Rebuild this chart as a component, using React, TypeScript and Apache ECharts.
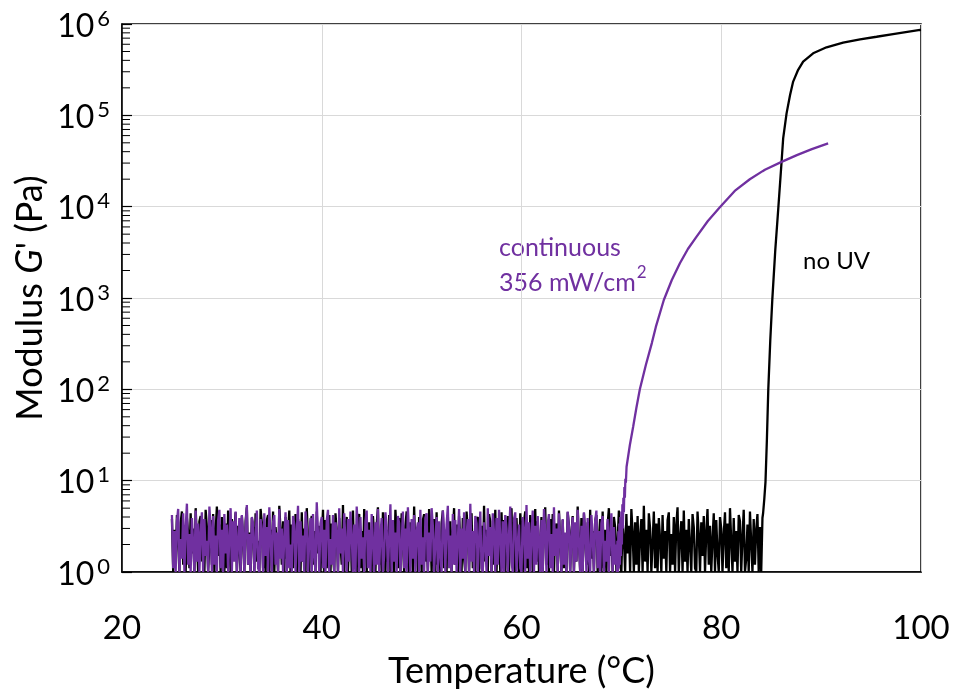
import React, { useEffect, useRef } from "react";
import * as echarts from "echarts";

// ---- data ----
const xTickValues = [20, 40, 60, 80, 100];
const xTickLabels = ["20", "40", "60", "80", "100"];
const yDecadeExponents = [0, 1, 2, 3, 4, 5, 6];

// no UV: noisy baseline sampled from 25.0 °C in 0.125 °C steps
const noUvNoiseStart = 25.0;
const noUvNoiseStep = 0.125;
const noUvNoise = [
  3.8, 1.0, 2.9, 1.4, 4.2, 2.1, 1.0, 3.5, 4.6, 1.2, 2.4, 1.0, 3.9, 2.7, 1.1, 4.4, 1.6, 3.0, 1.0, 5.0,
  2.2, 1.0, 3.6, 4.1, 1.3, 2.5, 1.0, 4.8, 3.1, 1.0, 2.0, 3.7, 1.2, 4.3, 1.0, 2.8, 5.2, 1.5, 3.3, 1.0,
  4.0, 2.6, 1.0, 3.4, 1.1, 4.7, 2.3, 1.0, 3.8, 1.4, 2.9, 4.5, 1.0, 3.2, 1.7, 1.0, 4.1, 2.4, 1.0, 3.6,
  5.1, 1.2, 2.7, 1.0, 3.9, 3.0, 1.0, 4.4, 1.3, 2.2, 1.0, 4.9, 3.5, 1.1, 2.6, 1.0, 3.7, 4.2, 1.0, 2.9,
  1.5, 4.6, 1.0, 3.1, 2.0, 1.0, 5.3, 2.8, 1.2, 3.6, 1.0, 4.0, 1.4, 2.5, 4.7, 1.0, 3.3, 1.1, 2.1, 4.3,
  1.0, 3.8, 2.6, 1.0, 4.5, 1.3, 3.0, 1.0, 5.0, 2.3, 1.0, 3.5, 4.1, 1.2, 2.8, 1.0, 4.6, 1.6, 3.2, 1.0,
  2.4, 4.8, 1.0, 3.7, 1.1, 2.9, 4.2, 1.0, 3.4, 1.5, 1.0, 4.4, 2.7, 1.0, 3.9, 2.0, 1.2, 5.4, 1.0, 3.1,
  4.0, 1.0, 2.5, 3.6, 1.0, 4.7, 1.3, 2.2, 1.0, 3.8, 4.3, 1.1, 2.8, 1.0, 4.9, 3.0, 1.0, 2.3, 3.5, 1.4,
  1.0, 4.1, 2.6, 1.0, 3.3, 5.1, 1.2, 2.0, 1.0, 4.5, 3.7, 1.0, 2.9, 1.3, 4.2, 1.0, 3.6, 2.4, 1.0, 4.8,
  2.7, 1.1, 3.9, 1.0, 4.4, 2.1, 1.0, 3.2, 4.6, 1.2, 1.0, 3.5, 2.5, 1.0, 5.2, 1.6, 3.0, 1.0, 4.0, 2.8,
  1.0, 3.7, 4.3, 1.3, 2.4, 1.0, 4.9, 3.1, 1.0, 2.6, 3.8, 1.0, 4.5, 1.2, 2.2, 1.0, 3.4, 4.7, 1.1, 2.9,
  1.0, 4.2, 1.5, 3.6, 1.0, 2.7, 5.0, 1.2, 3.3, 1.0, 4.1, 2.3, 1.0, 3.9, 1.4, 1.0, 4.6, 2.8, 1.0, 3.5,
  4.4, 1.1, 2.5, 1.0, 3.8, 4.0, 1.0, 2.1, 3.2, 1.0, 5.3, 1.3, 2.9, 1.0, 4.3, 3.6, 1.0, 2.4, 1.2, 4.8,
  1.0, 3.0, 2.6, 1.0, 4.5, 1.4, 3.7, 1.0, 2.2, 4.1, 1.0, 3.4, 5.0, 1.2, 2.7, 1.0, 3.9, 1.6, 1.0, 4.4,
  2.8, 1.0, 3.5, 4.6, 1.1, 2.3, 1.0, 4.2, 3.0, 1.0, 2.5, 4.9, 1.3, 3.6, 1.0, 2.0, 4.0, 1.0, 3.3, 5.1,
  1.2, 2.6, 1.0, 3.8, 1.5, 4.3, 1.0, 2.9, 3.4, 1.0, 4.7, 2.1, 1.0, 3.7, 1.1, 2.4, 1.0, 4.5, 3.2, 1.0,
  2.7, 4.1, 1.0, 3.0, 1.3, 5.2, 2.2, 1.0, 3.9, 1.0, 4.4, 2.5, 1.2, 3.5, 1.0, 4.8, 1.4, 2.8, 1.0, 3.6,
  4.2, 1.0, 2.3, 3.8, 1.0, 4.6, 1.1, 2.9, 1.0, 3.3, 5.0, 1.5, 2.6, 1.0, 4.0, 3.1, 1.0, 2.2, 4.7, 1.2,
  1.0, 3.6, 2.4, 1.0, 4.3, 1.6, 3.2, 1.0, 4.9, 2.7, 1.0, 3.5, 1.2, 4.1, 1.0, 2.5, 3.8, 1.0, 5.3, 1.3,
  2.9, 1.0, 4.4, 3.0, 1.0, 2.1, 4.6, 1.1, 3.4, 1.0, 3.9, 2.3, 1.0, 4.2, 1.4, 2.8, 1.0, 3.7, 4.5, 1.0,
  2.6, 1.2, 4.0, 1.0, 3.3, 5.1, 1.0, 2.4, 3.6, 1.0, 4.7, 1.3, 2.9, 1.0, 3.8, 2.0, 1.0, 4.3, 3.1, 1.1,
  1.0, 4.6, 2.5, 1.0, 3.5, 1.5, 4.1, 1.0, 2.7, 4.9, 1.2, 3.2, 1.0, 2.3, 4.4, 1.0, 3.7, 1.6, 1.0, 4.0,
  3.0, 1.0, 2.6, 4.5, 1.1, 3.4, 1.0, 5.0, 2.2, 1.0, 3.9, 1.3, 2.8, 1.0, 4.2, 3.6, 1.0, 2.4, 4.8, 1.0,
  1.4, 3.3, 1.0, 4.6, 2.1, 1.0, 3.8, 1.2, 2.9, 4.3, 1.0, 3.1, 1.0, 3.9,
];
// no UV: cure rise
const noUvRiseT = [
  84.19, 84.31, 84.43, 84.57, 84.71, 84.91, 85.11, 85.41, 85.72, 86.04, 86.2, 86.54,
  86.89, 87.2, 87.7, 88.2, 89.2, 90.54, 92.2, 93.9, 95.55, 97.2, 99.9, 100.0,
];
const noUvRiseG = [
  4.4, 6.3, 9.7, 28, 100, 347, 955, 3350, 9900, 31000, 56000, 105000,
  167000, 234000, 315000, 388000, 478000, 556000, 624000, 680000, 725000, 775000, 860000, 862000,
];

// continuous 356 mW/cm2: noisy baseline
const uvNoiseStart = 25.0;
const uvNoiseStep = 0.125;
const uvNoise = [
  4.2, 1.1, 2.8, 1.0, 3.6, 4.9, 1.0, 2.3, 1.4, 4.4, 1.0, 3.1, 5.6, 1.2, 2.6, 1.0, 3.9, 2.0, 1.0, 4.7,
  1.3, 3.4, 1.0, 2.7, 4.5, 1.0, 3.8, 1.5, 2.2, 1.0, 5.2, 3.0, 1.0, 4.1, 1.2, 2.5, 1.0, 3.7, 4.8, 1.1,
  2.9, 1.0, 4.3, 1.6, 3.3, 1.0, 2.4, 5.0, 1.0, 3.6, 1.3, 4.6, 1.0, 2.1, 3.9, 1.0, 4.2, 2.7, 1.0, 3.2,
  5.4, 1.2, 2.6, 1.0, 4.0, 3.4, 1.0, 2.2, 4.7, 1.1, 1.0, 3.8, 2.9, 1.0, 4.4, 1.5, 3.1, 1.0, 5.1, 2.3,
  1.0, 3.5, 4.2, 1.2, 2.7, 1.0, 4.9, 1.4, 3.0, 1.0, 2.4, 4.5, 1.0, 3.7, 1.1, 2.0, 1.0, 4.1, 3.3, 1.0,
  2.8, 5.3, 1.0, 3.6, 1.3, 2.5, 1.0, 4.6, 3.2, 1.0, 2.2, 3.9, 1.0, 4.3, 1.5, 1.0, 5.8, 2.6, 1.0, 3.4,
  4.0, 1.1, 2.9, 1.0, 3.7, 4.8, 1.0, 2.3, 1.2, 4.2, 1.0, 3.5, 2.7, 1.0, 5.0, 1.6, 3.0, 1.0, 4.4, 2.1,
  1.0, 3.8, 1.3, 4.6, 2.5, 1.0, 3.3, 1.0, 5.2, 2.8, 1.0, 4.0, 1.4, 2.4, 1.0, 3.6, 4.7, 1.1, 2.9, 1.0,
  4.3, 2.2, 1.0, 3.5, 1.2, 4.9, 1.0, 2.6, 3.9, 1.0, 1.5, 4.5, 3.1, 1.0, 2.3, 5.5, 1.0, 3.7, 1.3, 2.7,
  1.0, 4.1, 3.4, 1.0, 2.0, 4.6, 1.1, 3.0, 1.0, 5.1, 2.5, 1.0, 3.8, 1.4, 4.2, 1.0, 2.8, 3.5, 1.0, 4.8,
  1.2, 2.4, 1.0, 3.9, 4.4, 1.0, 2.7, 1.3, 5.0, 3.2, 1.0, 2.1, 4.0, 1.0, 3.6, 1.5, 1.0, 4.7, 2.9, 1.0,
  3.3, 5.3, 1.1, 2.5, 1.0, 4.3, 1.2, 3.7, 1.0, 2.2, 4.9, 1.0, 3.0, 1.4, 4.5, 1.0, 2.6, 3.8, 1.0, 5.6,
  1.3, 2.8, 1.0, 4.1, 3.4, 1.0, 2.3, 4.6, 1.1, 1.0, 3.5, 2.0, 1.0, 5.0, 1.5, 3.1, 1.0, 4.4, 2.7, 1.0,
  3.9, 1.2, 4.8, 2.4, 1.0, 3.6, 1.0, 4.2, 3.0, 1.0, 2.6, 5.2, 1.3, 1.0, 3.8, 4.5, 1.0, 2.1, 3.3, 1.1,
  1.0, 4.0, 2.9, 1.0, 5.4, 1.4, 3.5, 1.0, 2.5, 4.7, 1.0, 3.2, 1.2, 4.1, 2.2, 1.0, 3.7, 1.0, 4.9, 2.8,
  1.0, 3.4, 4.3, 1.1, 2.6, 1.0, 5.1, 1.5, 3.0, 1.0, 4.4, 2.3, 1.0, 3.8, 1.2, 2.7, 1.0, 4.6, 3.1, 1.0,
  2.4, 4.0, 1.0, 3.5, 1.3, 4.8, 2.1, 1.0, 3.2, 1.0, 4.5, 2.9, 1.0, 3.9, 1.4, 1.0, 4.2, 2.5, 1.0, 3.6,
  4.7, 1.1, 2.8, 1.0, 3.4, 4.1, 1.0, 2.2, 1.3, 3.8, 1.0, 2.6, 4.4, 1.0, 3.1, 1.2, 2.0,
];
// continuous: noisy onset and cure rise
const uvRiseT = [
  69.55, 69.6, 69.65, 69.7, 69.75, 69.8, 69.85, 69.9, 69.95, 70.0, 70.05, 70.1,
  70.15, 70.2, 70.25, 70.3, 70.35, 70.4, 70.45, 70.52, 70.85, 71.18, 71.5, 71.85,
  72.45, 73.05, 73.45, 74.25, 75.05, 75.86, 76.66, 77.53, 78.66, 79.86, 81.35, 82.86,
  84.37, 86.04, 87.57, 89.07, 90.7,
];
const uvRiseG = [
  1.0, 2.2, 1.0, 2.8, 1.1, 3.4, 1.2, 4.0, 1.5, 4.6, 2.0, 5.5,
  3.0, 6.5, 4.5, 8.5, 6.5, 10.5, 9.5, 14.2, 24.6, 39, 62.5, 100,
  185, 321, 482, 951, 1575, 2400, 3440, 4690, 6970, 9840, 14860, 19950,
  25400, 30950, 36700, 42700, 49400,
];

const PURPLE = "#7030A0";
const FONT = "Lato, 'Noto Sans', sans-serif";

export default function App() {
  const ref = useRef<HTMLDivElement>(null);

  useEffect(() => {
    if (!ref.current) return;
    const chart = echarts.init(ref.current, undefined, { renderer: "svg" });

    const noUvData: [number, number][] = noUvNoise.map((v, i) => [
      noUvNoiseStart + i * noUvNoiseStep,
      v,
    ]);
    noUvRiseT.forEach((t, i) => noUvData.push([t, noUvRiseG[i]]));

    const uvData: [number, number][] = uvNoise.map((v, i) => [
      uvNoiseStart + i * uvNoiseStep,
      v,
    ]);
    uvRiseT.forEach((t, i) => uvData.push([t, uvRiseG[i]]));

    // minor log ticks (2..9 in each decade)
    const minorTicks: number[] = [];
    for (let d = 0; d < yDecadeExponents.length - 1; d++) {
      for (let m = 2; m <= 9; m++) minorTicks.push(m * Math.pow(10, yDecadeExponents[d]));
    }

    chart.setOption({
      animation: false,
      textStyle: { fontFamily: FONT },
      grid: {
        left: 122,
        right: 34,
        top: 24,
        bottom: 122,
        show: true,
        borderColor: "#000",
        borderWidth: 1.5,
        backgroundColor: "transparent",
      },
      xAxis: {
        type: "value",
        min: 20,
        max: 100,
        interval: 20,
        name: "Temperature (°C)",
        nameLocation: "middle",
        nameGap: 79,
        nameTextStyle: { fontSize: 36, color: "#000", fontFamily: FONT },
        axisLine: { show: true, lineStyle: { color: "#000", width: 1.5 } },
        axisTick: { show: false },
        axisLabel: {
          fontSize: 33,
          color: "#000",
          margin: 37,
          fontFamily: FONT,
          formatter: (v: number) => {
            const idx = xTickValues.indexOf(v);
            return idx >= 0 ? xTickLabels[idx] : "";
          },
        },
        splitLine: { show: true, lineStyle: { color: "#d9d9d9", width: 1 } },
      },
      yAxis: {
        type: "log",
        logBase: 10,
        min: 1,
        max: 1e6,
        name: "Modulus {i|G}' (Pa)",
        nameLocation: "middle",
        nameGap: 74,
        nameRotate: 90,
        nameTextStyle: {
          fontSize: 36,
          color: "#000",
          fontFamily: FONT,
          rich: { i: { fontSize: 36, fontStyle: "italic", color: "#000", fontFamily: FONT } },
        },
        axisLine: { show: true, lineStyle: { color: "#000", width: 1.5 } },
        axisTick: { show: true, inside: true, length: 10, lineStyle: { color: "#000", width: 1.2 } },
        axisLabel: {
          color: "#000",
          margin: 12,
          fontFamily: FONT,
          formatter: (v: number) => `{b|10}{s|${Math.round(Math.log10(v))}}`,
          rich: {
            b: { fontSize: 32, lineHeight: 36, color: "#000", fontFamily: FONT },
            s: { fontSize: 22, lineHeight: 36, verticalAlign: "top", color: "#000", fontFamily: FONT, padding: [0, 0, 14, 3] },
          },
        },
        splitLine: { show: true, lineStyle: { color: "#d9d9d9", width: 1 } },
      },
      series: [
        {
          type: "custom",
          silent: true,
          data: minorTicks.map((v) => [20, v]),
          renderItem: (params: any, api: any) => {
            const p = api.coord([api.value(0), api.value(1)]);
            return {
              type: "line",
              shape: { x1: p[0], y1: p[1], x2: p[0] + 8, y2: p[1] },
              style: { stroke: "#000", lineWidth: 1 },
            };
          },
          z: 5,
        },
        {
          name: "no UV",
          type: "line",
          data: noUvData,
          showSymbol: false,
          symbol: "none",
          lineStyle: { color: "#000", width: 2.3 },
          z: 2,
        },
        {
          name: "continuous 356 mW/cm2",
          type: "line",
          data: uvData,
          showSymbol: false,
          symbol: "none",
          lineStyle: { color: PURPLE, width: 2.3 },
          z: 3,
        },
      ],
      graphic: [
        {
          type: "text",
          left: 499,
          top: 228,
          style: {
            text: "continuous\n356 mW/cm{s|2}",
            fill: PURPLE,
            fontSize: 25,
            lineHeight: 35,
            fontFamily: FONT,
            rich: {
              s: { fontSize: 17, fill: PURPLE, verticalAlign: "top", lineHeight: 35, padding: [0, 0, 2, 1], fontFamily: FONT },
            },
          },
        },
        {
          type: "text",
          left: 803,
          top: 247,
          style: {
            text: "no UV",
            fill: "#000",
            fontSize: 24,
            fontFamily: FONT,
          },
        },
      ],
    });

    return () => chart.dispose();
  }, []);

  return (
    <div
      ref={ref}
      style={{ position: "fixed", left: 0, top: 0, width: 955, height: 694 }}
    />
  );
}
